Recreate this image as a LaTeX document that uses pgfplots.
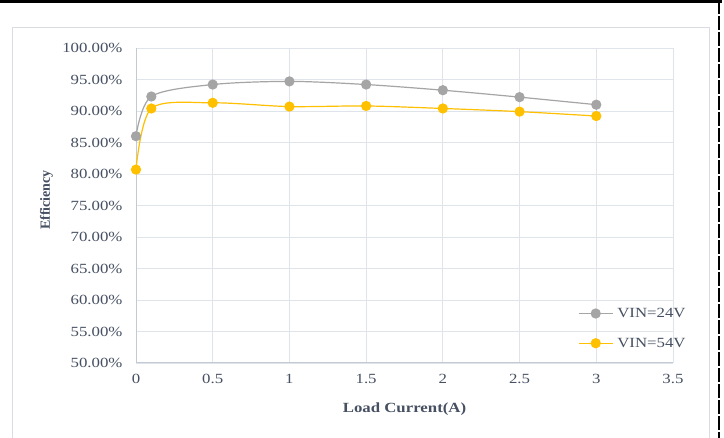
\documentclass[border=0pt]{standalone}
\usepackage{pgfplots}
\pgfplotsset{compat=1.18}
\usepackage{fontspec}
\setmainfont{Liberation Serif}[FakeStretch=1.2]
\newfontfamily\plainserif{Liberation Serif}
\definecolor{txt}{RGB}{70,80,98}
\definecolor{gridc}{RGB}{223,227,234}
\definecolor{axc}{RGB}{196,202,211}
\definecolor{ser1}{RGB}{165,165,165}
\definecolor{ser2}{RGB}{255,192,0}
\definecolor{framec}{RGB}{217,221,227}
\begin{document}
\begin{tikzpicture}[x=1pt,y=1pt]
\path[use as bounding box] (0,0) rectangle (724,438);
\fill[white] (0,0) rectangle (724,438);
\draw[framec, line width=1pt] (12,0) -- (12,410) -- (709,410) -- (709,0);
\draw[black, line width=3pt] (0,436.5) -- (722,436.5);
\draw[black, line width=1.5pt, dash pattern=on 14pt off 2pt] (719,438) -- (719,0);
\begin{axis}[
  at={(136pt,75pt)}, anchor=south west,
  width=537pt, height=315pt, scale only axis,
  xmin=0, xmax=3.5, ymin=50, ymax=100,
  xtick distance=0.5, ytick distance=5,
  axis lines=left,
  axis line style={-, axc, line width=1pt},
  grid=major,
  major grid style={gridc, line width=0.8pt},
  major tick length=0pt,
  /pgf/number format/assume math mode=true,
  tick label style={font=\fontsize{14}{16}\selectfont, text=txt},
  yticklabel={\pgfmathprintnumber[fixed,fixed zerofill,precision=2]{\tick}\%},
  xticklabel={\pgfmathprintnumber{\tick}},
  yticklabel style={xshift=-10pt},
  xticklabel style={yshift=-8pt},
  xlabel={Load Current(A)},
  ylabel={Efficiency},
  xlabel style={at={(axis description cs:0.5,-0.1454)}, anchor=center, font=\fontsize{14}{16}\selectfont\bfseries, text=txt},
  ylabel style={at={(axis description cs:-0.1667,0.5175)}, anchor=center, rotate=0, font=\plainserif\fontsize{14}{16}\selectfont\bfseries, text=txt},
  legend style={at={(axis description cs:0.823,0.178)}, anchor=north west, draw=none, fill=none,
    font=\fontsize{14}{16}\selectfont, text=txt, row sep=17pt, inner sep=0pt,
    nodes={inner sep=1pt},
    /tikz/every odd column/.style={column sep=3pt}},
  legend cell align=left,
  legend image code/.code={\draw[mark repeat=2,mark phase=2,#1] plot coordinates {(0pt,0pt) (17pt,0pt) (34pt,0pt)};},
]
\addplot[ser1, line width=1.2pt, smooth, mark=*, mark size=4.5pt, mark options={fill=ser1, draw=ser1}]
coordinates {(0,86.0)(0.1,92.3)(0.5,94.2)(1,94.7)(1.5,94.2)(2,93.3)(2.5,92.2)(3,91.0)};
\addlegendentry{VIN=24V}
\addplot[ser2, line width=1.2pt, smooth, mark=*, mark size=4.5pt, mark options={fill=ser2, draw=ser2}]
coordinates {(0,80.7)(0.1,90.4)(0.5,91.3)(1,90.7)(1.5,90.8)(2,90.4)(2.5,89.9)(3,89.2)};
\addlegendentry{VIN=54V}
\end{axis}
\end{tikzpicture}
\end{document}
